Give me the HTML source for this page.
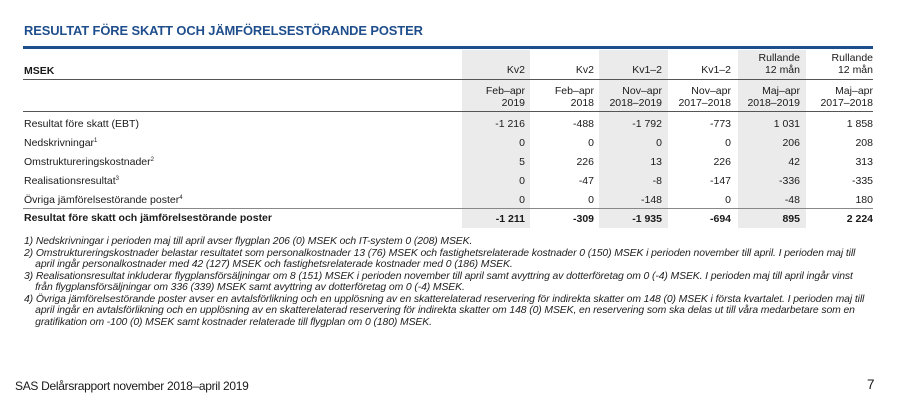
<!DOCTYPE html>
<html><head><meta charset="utf-8"><style>
*{margin:0;padding:0;box-sizing:border-box}
body{width:900px;height:401px;background:#fff;position:relative;overflow:hidden;font-family:"Liberation Sans",sans-serif;color:#1a1a1a}
.a{position:absolute;white-space:nowrap}
.sh{position:absolute;top:50px;height:178px;background:#ebebeb}
.hl{position:absolute;left:23px;width:850px}
.r{position:absolute;text-align:right;font-size:10.5px;line-height:12px}
.lbl{position:absolute;left:24px;font-size:10.5px;line-height:12px}
sup{font-size:6px;line-height:0;vertical-align:0;position:relative;top:-4px}
.fn{position:absolute;left:24px;font-size:10.4px;font-style:italic;line-height:11.5px;white-space:nowrap;color:#222;letter-spacing:-0.1px}
</style></head><body>
<div class="a" style="left:24px;top:23px;font-size:12.9px;font-weight:bold;color:#1f4e8c;letter-spacing:-0.1px">RESULTAT FÖRE SKATT OCH JÄMFÖRELSESTÖRANDE POSTER</div>
<div class="hl" style="top:46px;height:3px;background:#1f4e8c"></div>
<div class="sh" style="left:462px;width:68px"></div>
<div class="sh" style="left:599px;width:69px"></div>
<div class="sh" style="left:738px;width:68px"></div>
<div class="a" style="left:24px;top:65px;font-size:10.5px;font-weight:bold">MSEK</div>
<div class="hl" style="top:79px;height:1px;background:#555"></div>
<div class="hl" style="top:111px;height:1px;background:#555"></div>
<div class="hl" style="top:208px;height:1px;background:#888"></div>
<div class="lbl" style="top:118px">Resultat före skatt (EBT)</div>
<div class="lbl" style="top:137px">Nedskrivningar<sup>1</sup></div>
<div class="lbl" style="top:156px">Omstruktureringskostnader<sup>2</sup></div>
<div class="lbl" style="top:175px">Realisationsresultat<sup>3</sup></div>
<div class="lbl" style="top:194px">Övriga jämförelsestörande poster<sup>4</sup></div>
<div class="lbl" style="top:212px;font-weight:bold">Resultat före skatt och jämförelsestörande poster</div>

<div class="r" style="right:375px;top:52px;width:70px"><br>Kv2</div>
<div class="r" style="right:306px;top:52px;width:70px"><br>Kv2</div>
<div class="r" style="right:238px;top:52px;width:70px"><br>Kv1–2</div>
<div class="r" style="right:169px;top:52px;width:70px"><br>Kv1–2</div>
<div class="r" style="right:100px;top:52px;width:70px">Rullande<br>12 mån</div>
<div class="r" style="right:27px;top:52px;width:70px">Rullande<br>12 mån</div>

<div class="r" style="right:375px;top:85px;width:70px">Feb–apr<br>2019</div>
<div class="r" style="right:306px;top:85px;width:70px">Feb–apr<br>2018</div>
<div class="r" style="right:238px;top:85px;width:70px">Nov–apr<br>2018–2019</div>
<div class="r" style="right:169px;top:85px;width:70px">Nov–apr<br>2017–2018</div>
<div class="r" style="right:100px;top:85px;width:70px">Maj–apr<br>2018–2019</div>
<div class="r" style="right:27px;top:85px;width:70px">Maj–apr<br>2017–2018</div>

<div class="r" style="right:375px;top:114.5px;width:70px;line-height:19px">-1 216<br>0<br>5<br>0<br>0<br><b>-1 211</b></div>
<div class="r" style="right:306px;top:114.5px;width:70px;line-height:19px">-488<br>0<br>226<br>-47<br>0<br><b>-309</b></div>
<div class="r" style="right:238px;top:114.5px;width:70px;line-height:19px">-1 792<br>0<br>13<br>-8<br>-148<br><b>-1 935</b></div>
<div class="r" style="right:169px;top:114.5px;width:70px;line-height:19px">-773<br>0<br>226<br>-147<br>0<br><b>-694</b></div>
<div class="r" style="right:100px;top:114.5px;width:70px;line-height:19px">1 031<br>206<br>42<br>-336<br>-48<br><b>895</b></div>
<div class="r" style="right:27px;top:114.5px;width:70px;line-height:19px">1 858<br>208<br>313<br>-335<br>180<br><b>2 224</b></div>

<div class="fn" style="top:236px">1) Nedskrivningar i perioden maj till april avser flygplan 206 (0) MSEK och IT-system 0 (208) MSEK.<br>
2) Omstruktureringskostnader belastar resultatet som personalkostnader 13 (76) MSEK och fastighetsrelaterade kostnader 0 (150) MSEK i perioden november till april. I perioden maj till<br>
&nbsp;&nbsp;&nbsp;&nbsp;april ingår personalkostnader med 42 (127) MSEK och fastighetsrelaterade kostnader med 0 (186) MSEK.<br>
3) Realisationsresultat inkluderar flygplansförsäljningar om 8 (151) MSEK i perioden november till april samt avyttring av dotterföretag om 0 (-4) MSEK. I perioden maj till april ingår vinst<br>
&nbsp;&nbsp;&nbsp;&nbsp;från flygplansförsäljningar om 336 (339) MSEK samt avyttring av dotterföretag om 0 (-4) MSEK.<br>
4) Övriga jämförelsestörande poster avser en avtalsförlikning och en upplösning av en skatterelaterad reservering för indirekta skatter om 148 (0) MSEK i första kvartalet. I perioden maj till<br>
&nbsp;&nbsp;&nbsp;&nbsp;april ingår en avtalsförlikning och en upplösning av en skatterelaterad reservering för indirekta skatter om 148 (0) MSEK, en reservering som ska delas ut till våra medarbetare som en<br>
&nbsp;&nbsp;&nbsp;&nbsp;gratifikation om -100 (0) MSEK samt kostnader relaterade till flygplan om 0 (180) MSEK.</div>

<div class="a" style="left:15px;top:379px;font-size:12px;letter-spacing:-0.3px">SAS Delårsrapport november 2018–april 2019</div>
<div class="a" style="left:867px;top:377px;font-size:13.5px">7</div>
</body></html>
